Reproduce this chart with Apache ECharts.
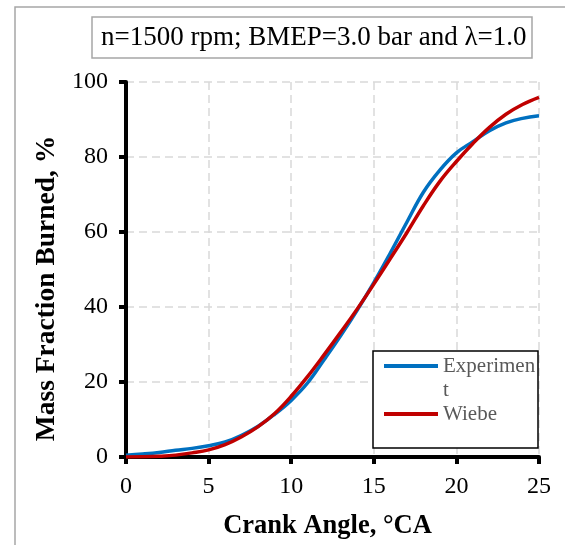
<!DOCTYPE html>
<html>
<head>
<meta charset="utf-8">
<script src="https://cdn.jsdelivr.net/npm/echarts@6/dist/echarts.min.js"></script>
<style>
html,body{margin:0;padding:0;background:#fff;}
#chart{width:565px;height:545px;}
</style>
</head>
<body>
<div id="chart"></div>
<script>
// Crank angle (°CA)
var crankAngle = [0,1,2,3,4,5,6,7,8,9,10,11,12,13,14,15,16,17,18,19,20,21,22,23,24,25];
// Experiment mass fraction burned (%)
var experiment = [0.5,0.8,1.2,1.8,2.3,3.0,4.0,5.8,8.2,11.4,15.1,19.8,26.0,32.4,39.2,46.5,54.4,62.6,70.6,76.5,81.1,84.1,87.0,89.1,90.3,91.0];
// Wiebe mass fraction burned (%)
var wiebe = [0,0.05,0.2,0.5,1.1,1.9,3.3,5.4,8.1,11.6,16.2,21.5,27.3,33.3,39.5,46.1,52.9,59.8,67.0,73.5,78.8,83.6,87.9,91.4,94.0,95.9];
var xTicks = [0,5,10,15,20,25];
var yTicks = [0,20,40,60,80,100];
var titleText = 'n=1500 rpm; BMEP=3.0 bar and \u03bb=1.0';
var seriesNames = ['Experiment','Wiebe'];

function pairs(xs, ys){ return xs.map(function(x,i){ return [x, ys[i]]; }); }

var FONT = '"Liberation Serif","Times New Roman",serif';
var chart = echarts.init(document.getElementById('chart'), null, {renderer:'canvas'});
var option = {
  backgroundColor:'#fff',
  animation:false,
  title:{
    text:titleText,
    left:92, top:17,
    padding:[5,6,5,9],
    borderColor:'#a6a6a6', borderWidth:1.5,
    textStyle:{fontFamily:FONT, fontSize:27, fontWeight:'normal', color:'#000', lineHeight:31}
  },
  graphic:[
    {type:'rect', z:-10, shape:{x:15,y:7,width:600,height:600}, style:{fill:'none', stroke:'#a6a6a6', lineWidth:1.5}},
    {type:'rect', z:50, shape:{x:373,y:351,width:165,height:97}, style:{fill:'#fff', stroke:'#000', lineWidth:1.5}}
  ],
  legend:{
    orient:'vertical', left:384, top:330, padding:0, itemGap:0,
    z:60,
    itemWidth:54, itemHeight:4, icon:'rect',
    textStyle:{fontFamily:FONT, fontSize:21, color:'#595959', lineHeight:24},
    formatter:function(n){ return n === 'Experiment' ? '\nExperimen\nt' : n; },
    data:seriesNames
  },
  grid:{left:126, right:26, top:82, bottom:88, containLabel:false},
  xAxis:{
    type:'value', min:0, max:25, interval:5,
    name:'Crank Angle, \u00b0CA', nameLocation:'middle', nameGap:56,
    nameTextStyle:{fontFamily:FONT, fontSize:26.5, fontWeight:'bold', color:'#000', padding:[0,10,0,0]},
    axisLine:{onZero:false, lineStyle:{color:'#000', width:4}},
    axisTick:{show:true, length:7, lineStyle:{color:'#000', width:4}},
    axisLabel:{margin:18, fontFamily:FONT, fontSize:24, color:'#000',
      customValues: xTicks},
    splitLine:{show:true, lineStyle:{color:'#d9d9d9', width:1.5, type:[8,5]}}
  },
  yAxis:{
    type:'value', min:0, max:100, interval:20,
    name:'Mass Fraction Burned, %', nameLocation:'middle', nameGap:62, nameRotate:90,
    nameTextStyle:{fontFamily:FONT, fontSize:27.5, fontWeight:'bold', color:'#000', padding:[0,38,0,0]},
    axisLine:{onZero:false, lineStyle:{color:'#000', width:4}},
    axisTick:{show:true, length:7, lineStyle:{color:'#000', width:4}},
    axisLabel:{margin:18, fontFamily:FONT, fontSize:24, color:'#000'},
    splitLine:{show:true, lineStyle:{color:'#d9d9d9', width:1.5, type:[8,5]}}
  },
  series:[
    {name:seriesNames[0], type:'line', data:pairs(crankAngle, experiment), smooth:0.4, showSymbol:false, symbol:'none',
      color:'#0070C0', lineStyle:{width:3.5, color:'#0070C0'}, z:3},
    {name:seriesNames[1], type:'line', data:pairs(crankAngle, wiebe), smooth:0.4, showSymbol:false, symbol:'none',
      color:'#C00000', lineStyle:{width:3.5, color:'#C00000'}, z:4}
  ]
};
chart.setOption(option);
</script>
</body>
</html>
